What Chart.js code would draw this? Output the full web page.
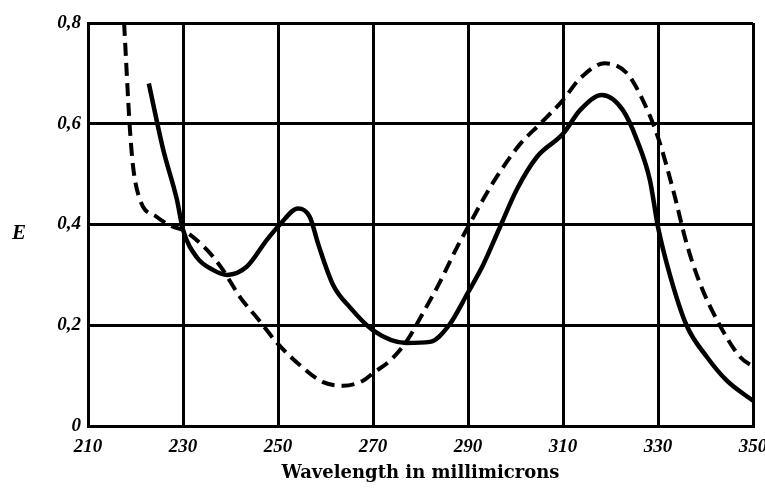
<!DOCTYPE html>
<html>
<head>
<meta charset="utf-8">
<script src="https://cdn.jsdelivr.net/npm/chart.js@4/dist/chart.umd.min.js"></script>
<style>
  html, body { margin: 0; padding: 0; background: #fff; }
  #wrap { width: 765px; height: 488px; }
</style>
</head>
<body>
<div id="wrap"><canvas id="chart"></canvas></div>
<script>
// solid curve (wavelength, extinction)
const solidX = [222.8, 225.8, 228.7, 230, 232.9, 236.3, 239.3, 243.4, 247.7, 250.4, 254.2, 256.7, 258.5, 261.6, 265.2, 270, 277, 282, 286, 290, 293.2, 296.5, 300.3, 304.5, 310, 313.6, 318.2, 322.6, 325.6, 328.3, 330, 332.5, 336, 340.3, 344.5, 350];
const solidE = [0.68, 0.55, 0.45, 0.39, 0.335, 0.31, 0.30, 0.316, 0.37, 0.40, 0.432, 0.415, 0.36, 0.28, 0.235, 0.19, 0.165, 0.167, 0.2, 0.265, 0.32, 0.39, 0.47, 0.534, 0.58, 0.627, 0.657, 0.627, 0.567, 0.488, 0.395, 0.30, 0.2, 0.137, 0.09, 0.05];

// dashed curve
const dashX = [217.6, 218.8, 219.5, 221, 224.5, 228, 230, 235, 238.4, 242, 246, 249.8, 254.7, 259.5, 263.7, 267.9, 270, 273.6, 277.2, 280.5, 284, 287.7, 290, 293.2, 296, 301, 305.2, 310, 313.6, 318.8, 323.5, 326.8, 330, 333.2, 336, 338.8, 343, 347.3, 350];
const dashE = [0.8, 0.593, 0.514, 0.448, 0.415, 0.395, 0.389, 0.35, 0.31, 0.256, 0.21, 0.165, 0.12, 0.087, 0.08, 0.09, 0.105, 0.13, 0.17, 0.224, 0.284, 0.355, 0.395, 0.45, 0.494, 0.56, 0.60, 0.647, 0.69, 0.72, 0.70, 0.647, 0.573, 0.468, 0.363, 0.284, 0.2, 0.137, 0.118];

const xMin = 210, xMax = 350, xStep = 20;
const yMin = 0, yMax = 0.8, yStep = 0.2;

const tickFont = { family: "'Liberation Serif'", size: 19, weight: 'bold', style: 'italic' };

function pts(xs, ys) {
  return xs.map((x, i) => ({ x: x, y: ys[i] }));
}

// "E" next to the y axis, drawn upright
const yLabel = {
  id: 'yLabel',
  afterDraw(chart) {
    const ctx = chart.ctx;
    ctx.save();
    ctx.font = "bold italic 21px 'Liberation Serif'";
    ctx.fillStyle = '#000';
    ctx.textAlign = 'center';
    ctx.textBaseline = 'middle';
    ctx.fillText('E', 19, 234);
    ctx.restore();
  }
};

new Chart(document.getElementById('chart'), {
  type: 'line',
  data: {
    datasets: [
      {
        data: pts(solidX, solidE),
        borderColor: '#000',
        borderWidth: 4.5,
        pointRadius: 0,
        cubicInterpolationMode: 'monotone',
        fill: false
      },
      {
        data: pts(dashX, dashE),
        borderColor: '#000',
        borderWidth: 4,
        borderDash: [13, 7],
        pointRadius: 0,
        cubicInterpolationMode: 'monotone',
        fill: false
      }
    ]
  },
  options: {
    responsive: true,
    maintainAspectRatio: false,
    animation: false,
    layout: { padding: { top: 23, right: 0, left: 0, bottom: 0 } },
    plugins: {
      legend: { display: false },
      tooltip: { enabled: false }
    },
    scales: {
      x: {
        type: 'linear',
        min: xMin,
        max: xMax,
        ticks: { stepSize: xStep, color: '#000', font: tickFont, padding: 10, maxRotation: 0 },
        grid: { color: '#000', lineWidth: 3, drawTicks: false },
        border: { color: '#000', width: 3 },
        title: {
          display: true,
          text: 'Wavelength in millimicrons',
          color: '#000',
          font: { family: "'DejaVu Serif'", size: 18, weight: 'bold' },
          padding: { top: 0, bottom: 4 }
        },
        afterFit(scale) {
          scale.height = 62;
          scale.paddingLeft = 0;
          scale.paddingRight = 12;
        }
      },
      y: {
        min: yMin,
        max: yMax,
        ticks: {
          stepSize: yStep,
          color: '#000',
          font: tickFont,
          padding: 7,
          callback: v => v === 0 ? '0' : v.toFixed(1).replace('.', ',')
        },
        grid: { color: '#000', lineWidth: 3, drawTicks: false },
        border: { color: '#000', width: 3 },
        afterFit(scale) { scale.width = 88; }
      }
    }
  },
  plugins: [yLabel]
});
</script>
</body>
</html>
